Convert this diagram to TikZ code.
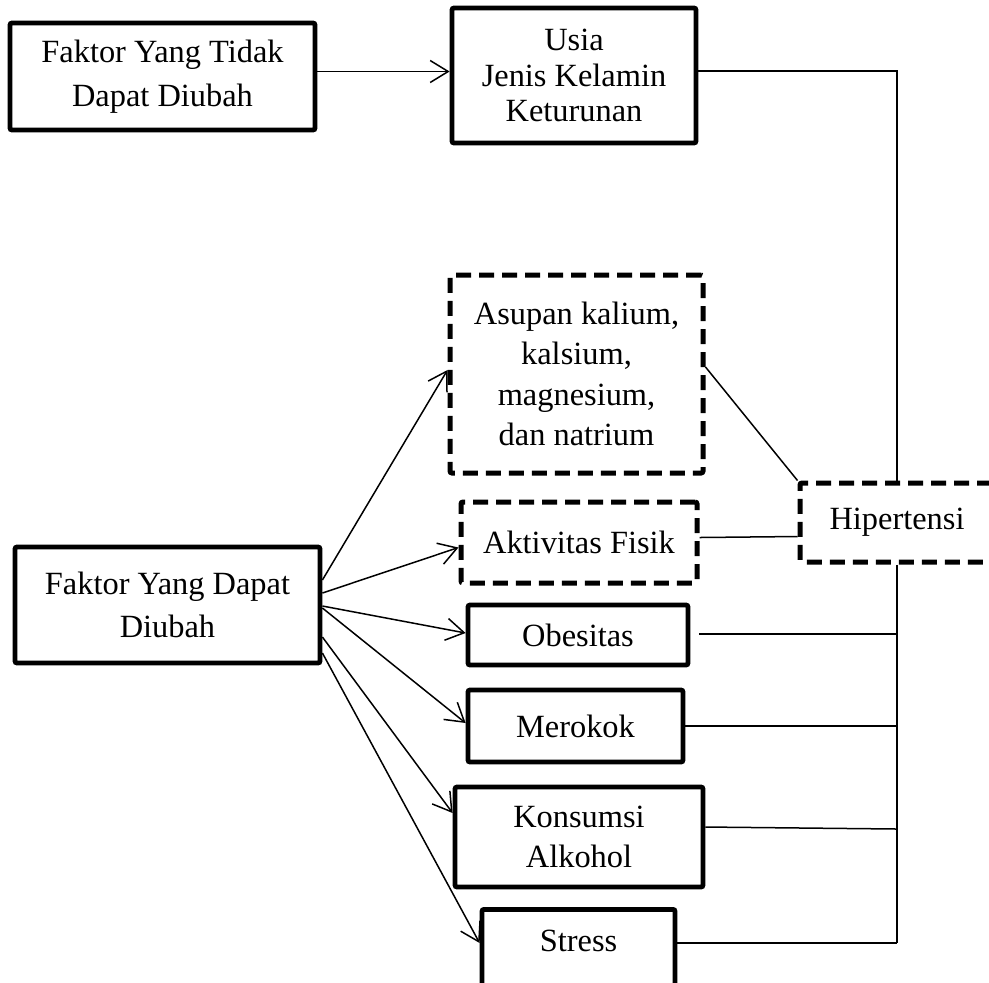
\documentclass[tikz,border=0pt]{standalone}
\usepackage{fontspec}
\setmainfont{Liberation Serif}
\usepackage{tikz}
\usetikzlibrary{arrows.meta,calc,positioning}
\tikzset{
  faktor/.style = {align=center, draw, black, fill=white, line width=2.4pt, rounded corners=1pt,
  inner sep=0pt, text centered, font=\fontsize{16.2}{20.3}\selectfont},
  fak_s/.style = {faktor},
  fak_d/.style = {faktor, line width=2.5pt, dash pattern=on 7.5pt off 4pt}
}

\begin{document}
\begin{tikzpicture}[x=0.5pt,y=-0.5pt,
        link/.style={line width=0.75pt},
        arrow/.style={link, -{Straight Barb[length=9pt,width=11pt]}},
        wide/.style={font=\fontsize{16.2}{21.8}\selectfont},
        tight/.style={font=\fontsize{16.2}{17.8}\selectfont}]
        \clip (0,0) rectangle (989,982);
        \node (tidak) [fak_s, wide, minimum width=152.5pt, minimum height=53.5pt] at (162.5,76.5)
            {Faktor Yang Tidak\\Dapat Diubah};
        \node (usia) [fak_s, tight, minimum width=122pt, minimum height=67.5pt] at (574,75.5)
            {Usia\\Jenis Kelamin\\Keturunan};
        \node (dapat) [fak_s, wide, minimum width=152.5pt, minimum height=58pt] at (167.5,605)
            {Faktor Yang Dapat\\Diubah};
        \node (asupan) [fak_d, minimum width=126.5pt, minimum height=99pt] at (576.5,374)
            {Asupan kalium,\\kalsium,\\magnesium,\\dan natrium};
        \node (aktivitas) [fak_d, minimum width=118pt, minimum height=40.5pt] at (579,542.5)
            {Aktivitas Fisik};
        \node (hiper) [fak_d, minimum width=97pt, minimum height=39.5pt] at (897,522.5)
            {Hipertensi};
        \node (obesitas) [fak_s, minimum width=110pt, minimum height=30pt] at (578,635)
            {Obesitas};
        \node (merokok) [fak_s, minimum width=107.5pt, minimum height=36pt] at (575.5,726)
            {Merokok};
        \node (alkohol) [fak_s, minimum width=124pt, minimum height=50pt] at (579,837)
            {Konsumsi\\Alkohol};
        \node (stress) [fak_s, anchor=north, minimum width=96.5pt, minimum height=50pt,
            text height=21pt, text depth=29pt] at (578.5,907) {Stress};
        \coordinate (bus) at (897,943);
        \coordinate (tidak out) at ($(tidak.east)+(0,-5)$);
        \coordinate (usia out) at ($(usia.east)+(0,-4.5)$);

        \draw [arrow] (tidak out) -- (usia.west |- tidak out);
        \draw [arrow] ($(dapat.east)+(0,-25)$) -- ($(asupan.west)+(0,-4)$);
        \draw [arrow] ($(dapat.east)+(0,-12)$) -- ($(aktivitas.west)+(0,5)$);
        \draw [arrow] ($(dapat.east)+(0,1)$) -- ($(obesitas.west)+(0,-2)$);
        \draw [arrow] ($(dapat.east)+(0,3)$) -- ($(merokok.west)+(0,-3)$);
        \draw [arrow] ($(dapat.east)+(0,32)$) -- ($(alkohol.west)+(0,-24)$);
        \draw [arrow] ($(dapat.east)+(0,48)$) -- ($(stress.north west)+(0,36)$);

        \draw [link] (usia out) -| (hiper.north);
        \draw [link] ($(asupan.east)+(0,-7)$) -- (hiper.north west);
        \draw [link] ($(aktivitas.east)+(0,-5)$) -- ($(hiper.west)+(0,14)$);
        \draw [link] (hiper.south) -- (bus);
        \draw [link] ($(obesitas.east)+(9,-1)$) -- ($(obesitas.east -| bus)+(0,-1)$);
        \draw [link] (merokok.east) -- (merokok.east -| bus);
        \draw [link] ($(alkohol.east)+(0,-10)$) -- ($(alkohol.east -| bus)+(0,-8)$);
        \draw [link] ($(stress.north east)+(0,36)$) -- (bus);
\end{tikzpicture}
\end{document}
